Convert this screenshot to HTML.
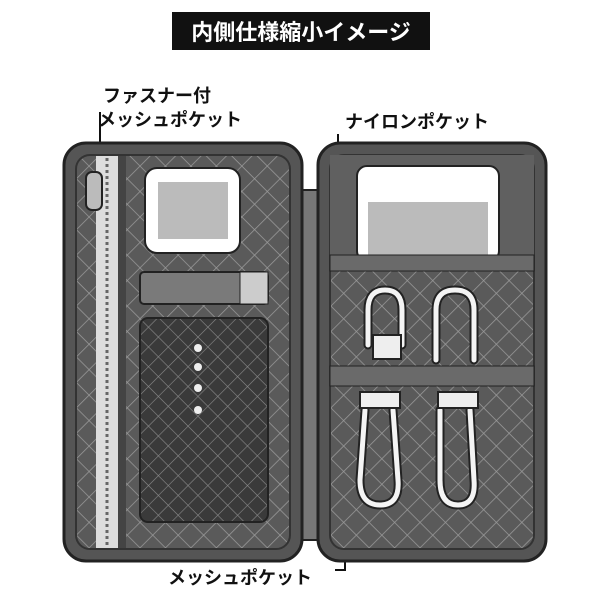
<!DOCTYPE html>
<html><head><meta charset="utf-8"><style>
body{margin:0;background:#fff;width:600px;height:600px;overflow:hidden}
svg text{font-family:"Liberation Sans","Noto Sans CJK JP",sans-serif;font-weight:bold}
</style></head><body>
<svg width="600" height="600" viewBox="0 0 600 600">
<defs>
<pattern id="mesh" width="18" height="18" patternUnits="userSpaceOnUse" patternTransform="rotate(45)">
<rect width="18" height="18" fill="#5a5a5a"/><path d="M0 0H18M0 0V18" stroke="#9a9a9a" stroke-width="1.5"/></pattern>
<pattern id="mesh2" width="14" height="14" patternUnits="userSpaceOnUse" patternTransform="rotate(45)">
<rect width="14" height="14" fill="#3a3a3a"/><path d="M0 0H14M0 0V14" stroke="#8a8a8a" stroke-width="1.2"/></pattern>
</defs>
<rect x="172" y="12" width="258" height="38" fill="#111"/>
<text x="301" y="40" font-size="22" fill="#fff" text-anchor="middle">内側仕様縮小イメージ</text>
<text x="103" y="102" font-size="18" fill="#111">ファスナー付</text>
<text x="98" y="126" font-size="18" fill="#111">メッシュポケット</text>
<text x="345" y="128" font-size="18" fill="#111">ナイロンポケット</text>
<text x="168" y="584" font-size="18" fill="#111">メッシュポケット</text>
<path d="M100 112V185M338 134V185M345 520V570H335" stroke="#111" stroke-width="2" fill="none"/>
<!-- hinge -->
<rect x="290" y="190" width="40" height="350" fill="#777" stroke="#222" stroke-width="2"/>
<!-- left case -->
<rect x="64" y="143" width="238" height="418" rx="22" fill="#555" stroke="#222" stroke-width="3"/>
<rect x="76" y="155" width="214" height="394" rx="14" fill="url(#mesh)" stroke="#333" stroke-width="2"/>
<rect x="96" y="156" width="22" height="392" fill="#ddd"/>
<path d="M107 158V546" stroke="#666" stroke-width="3" stroke-dasharray="3 3"/>
<rect x="118" y="156" width="8" height="392" fill="#444"/>
<rect x="86" y="172" width="16" height="38" rx="6" fill="#bbb" stroke="#222" stroke-width="2"/>
<rect x="145" y="168" width="95" height="85" rx="12" fill="#fff" stroke="#222" stroke-width="2"/>
<rect x="158" y="182" width="70" height="57" fill="#bbb"/>
<rect x="140" y="272" width="128" height="32" rx="4" fill="#7a7a7a" stroke="#222" stroke-width="2"/>
<rect x="240" y="272" width="28" height="32" fill="#ccc" stroke="#222"/>
<rect x="140" y="318" width="128" height="204" rx="8" fill="url(#mesh2)" stroke="#222" stroke-width="2"/>
<circle cx="198" cy="348" r="4" fill="#eee"/><circle cx="198" cy="367" r="4" fill="#eee"/>
<circle cx="198" cy="388" r="4" fill="#eee"/><circle cx="198" cy="410" r="4" fill="#eee"/>
<!-- right case -->
<rect x="318" y="143" width="228" height="418" rx="22" fill="#555" stroke="#222" stroke-width="3"/>
<rect x="330" y="155" width="204" height="394" rx="14" fill="url(#mesh)" stroke="#333" stroke-width="2"/>
<rect x="330" y="155" width="204" height="110" fill="#606060"/>
<rect x="357" y="166" width="142" height="95" rx="10" fill="#fff" stroke="#222" stroke-width="2"/>
<rect x="368" y="202" width="120" height="55" fill="#bbb"/>
<rect x="330" y="255" width="204" height="16" fill="#6a6a6a" stroke="#222"/>
<rect x="330" y="366" width="204" height="20" fill="#6a6a6a" stroke="#222"/>
<g fill="none" stroke="#222" stroke-width="9" stroke-linecap="round">
<path d="M368 345V310Q368 290 385 290Q402 290 402 310V345"/>
<path d="M436 360V310Q436 290 455 290Q474 290 474 310V360"/>
<path d="M365 410L360 480Q360 505 380 505Q400 505 398 480L393 410"/>
<path d="M440 410L440 480Q440 505 458 505Q476 505 474 480L470 410"/>
</g>
<g fill="none" stroke="#f4f4f4" stroke-width="5" stroke-linecap="round">
<path d="M368 345V310Q368 290 385 290Q402 290 402 310V345"/>
<path d="M436 360V310Q436 290 455 290Q474 290 474 310V360"/>
<path d="M365 410L360 480Q360 505 380 505Q400 505 398 480L393 410"/>
<path d="M440 410L440 480Q440 505 458 505Q476 505 474 480L470 410"/>
</g>
<rect x="373" y="335" width="28" height="24" fill="#eee" stroke="#222" stroke-width="2"/>
<rect x="360" y="392" width="40" height="16" fill="#eee" stroke="#222" stroke-width="2"/>
<rect x="438" y="392" width="40" height="16" fill="#eee" stroke="#222" stroke-width="2"/>
</svg>
</body></html>
